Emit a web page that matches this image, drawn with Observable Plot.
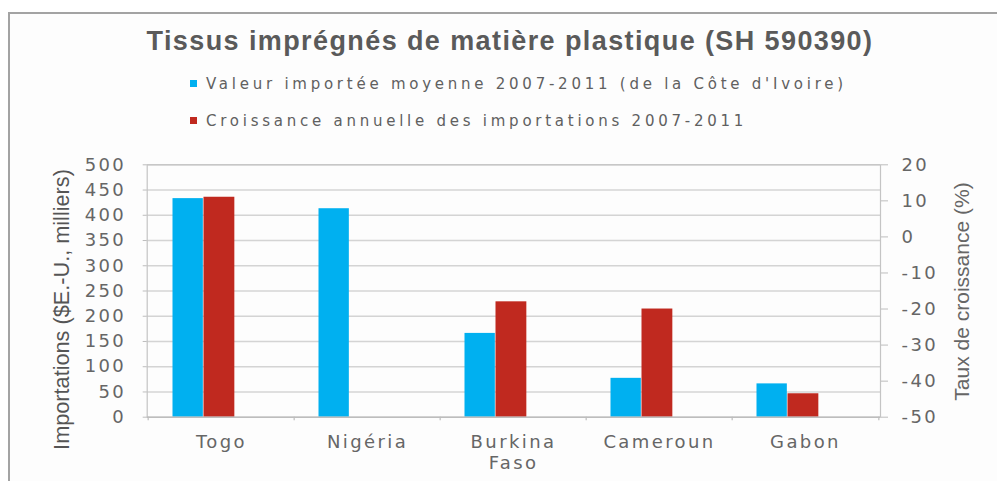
<!DOCTYPE html>
<html>
<head>
<meta charset="utf-8">
<script src="https://cdn.jsdelivr.net/npm/d3@7"></script>
<script src="https://cdn.jsdelivr.net/npm/@observablehq/plot@0.6"></script>
<style>
  html, body { margin: 0; padding: 0; background: #fff; }
  #wrap { position: relative; width: 997px; height: 481px; overflow: hidden; background: #fff; }
  #frame { position: absolute; left: 8px; top: 12px; width: 1010px; height: 490px;
           border-left: 2px solid #a3a3a3; border-top: 2px solid #a3a3a3; background: #fdfdfd; }
  #title { position: absolute; left: 0; width: 1020px; top: 26px; text-align: center;
           font-family: "Liberation Sans", Arial, sans-serif; font-weight: bold; font-size: 27px;
           color: #5a5a5a; letter-spacing: 1.4px; white-space: nowrap; }
  .leg { position: absolute; left: 190px; font-family: "DejaVu Sans", sans-serif; font-size: 15px;
         color: #606060; letter-spacing: 3.75px; white-space: nowrap; line-height: 18px; }
  .leg .sw { display: inline-block; width: 7px; height: 7px; margin-right: 9px; vertical-align: 2px; }
  #chart { position: absolute; left: 0; top: 145px; }
  #chart svg text { letter-spacing: 2.4px; }
  #chart svg g[aria-label="text"] text { letter-spacing: 0; }
</style>
</head>
<body>
<div id="wrap">
  <div id="frame"></div>
  <div id="title"></div>
  <div id="leg1" class="leg" style="top:75px"></div>
  <div id="leg2" class="leg" style="top:112px"></div>
  <div id="chart"></div>
</div>
<script>
// ---- data ----
const countries = ["Togo", "Nigéria", "Burkina Faso", "Cameroun", "Gabon"];
const tickLabels = ["Togo", "Nigéria", "Burkina\nFaso", "Cameroun", "Gabon"];
const importValue = [433, 413, 166, 77, 66];          // $E.-U., milliers (left axis)
const growthRate = [11, null, -18, -20, -43.5];        // % (right axis)
const leftTicks = [0, 50, 100, 150, 200, 250, 300, 350, 400, 450, 500];
const rightTicks = [-50, -40, -30, -20, -10, 0, 10, 20];
const titleText = "Tissus imprégnés de matière plastique (SH 590390)";
const seriesNames = ["Valeur importée moyenne 2007-2011 (de la Côte d'Ivoire)",
                     "Croissance annuelle des importations 2007-2011"];
const seriesColors = ["#00b0f0", "#c0291f"];
const leftLabel = "Importations ($E.-U., milliers)";
const rightLabel = "Taux de croissance (%)";

// ---- header ----
document.getElementById("title").textContent = titleText;
["leg1", "leg2"].forEach((id, i) => {
  const el = document.getElementById(id);
  const sw = document.createElement("span");
  sw.className = "sw"; sw.style.background = seriesColors[i];
  el.appendChild(sw);
  el.appendChild(document.createTextNode(seriesNames[i]));
});

// ---- chart ----
const rows = countries.map((c, i) => ({country: c, value: importValue[i], growth: growthRate[i]}));
const rt = d3.scaleLinear().domain([-50, 20]).range([0, 500]); // right axis -> left units
const labelOf = new Map(countries.map((c, i) => [c, tickLabels[i]]));
const band = (880 - 146.7) / countries.length;

const chart = Plot.plot({
  width: 997,
  height: 336,
  marginLeft: 146.7,
  marginRight: 117,
  marginTop: 19.3,
  marginBottom: 64.3,
  style: {fontFamily: "'DejaVu Sans', sans-serif", fontSize: "18px", color: "#666", background: "transparent"},
  x: {domain: countries, padding: 0, axis: null},
  y: {domain: [0, 500], axis: null},
  marks: [
    Plot.ruleY(leftTicks.filter(d => d > 0), {stroke: "#d4d4d4", strokeWidth: 1.4}),
    Plot.frame({stroke: "#c4c4c4", strokeWidth: 1.2}),
    Plot.barY(rows, {x: "country", y: "value", fill: seriesColors[0], insetLeft: 24.5, insetRight: band - 55.5}),
    Plot.barY(rows.filter(d => d.growth != null), {x: "country", y1: 0, y2: d => rt(d.growth), fill: seriesColors[1], insetLeft: 55.5, insetRight: band - 87}),
    Plot.ruleY([0], {stroke: "#bdbdbd", strokeWidth: 1.4}),
    Plot.ruleX(countries, {x: d => d, dx: -band / 2, y1: 0, y2: -7, stroke: "#bdbdbd", strokeWidth: 1.2}),
    Plot.ruleX([countries[countries.length - 1]], {x: d => d, dx: band / 2, y1: 0, y2: -7, stroke: "#bdbdbd", strokeWidth: 1.2}),
    Plot.axisX({domain: countries, tickSize: 0, tickPadding: 15, tickFormat: d => labelOf.get(d), lineHeight: 1.2, fill: "#666", label: null}),
    Plot.axisY(leftTicks, {anchor: "left", tickSize: 4, tickPadding: 17, stroke: "#bdbdbd", fill: "#666", label: null}),
    Plot.axisY(rightTicks.map(rt), {anchor: "right", tickSize: 7, tickPadding: 14, stroke: "#bdbdbd", fill: "#666",
      tickFormat: d => String(Math.round(rt.invert(d))), label: null}),
    Plot.text([leftLabel], {frameAnchor: "left", textAnchor: "middle", rotate: -90, dx: -84.7, dy: 18.5, fontSize: 21.7,
      fontFamily: "'Liberation Sans', Arial, sans-serif", fill: "#555"}),
    Plot.text([rightLabel], {frameAnchor: "right", textAnchor: "middle", rotate: -90, dx: 81.7, dy: 0.5, fontSize: 21,
      fontFamily: "'Liberation Sans', Arial, sans-serif", fill: "#666"})
  ]
});
document.getElementById("chart").appendChild(chart);
</script>
</body>
</html>
